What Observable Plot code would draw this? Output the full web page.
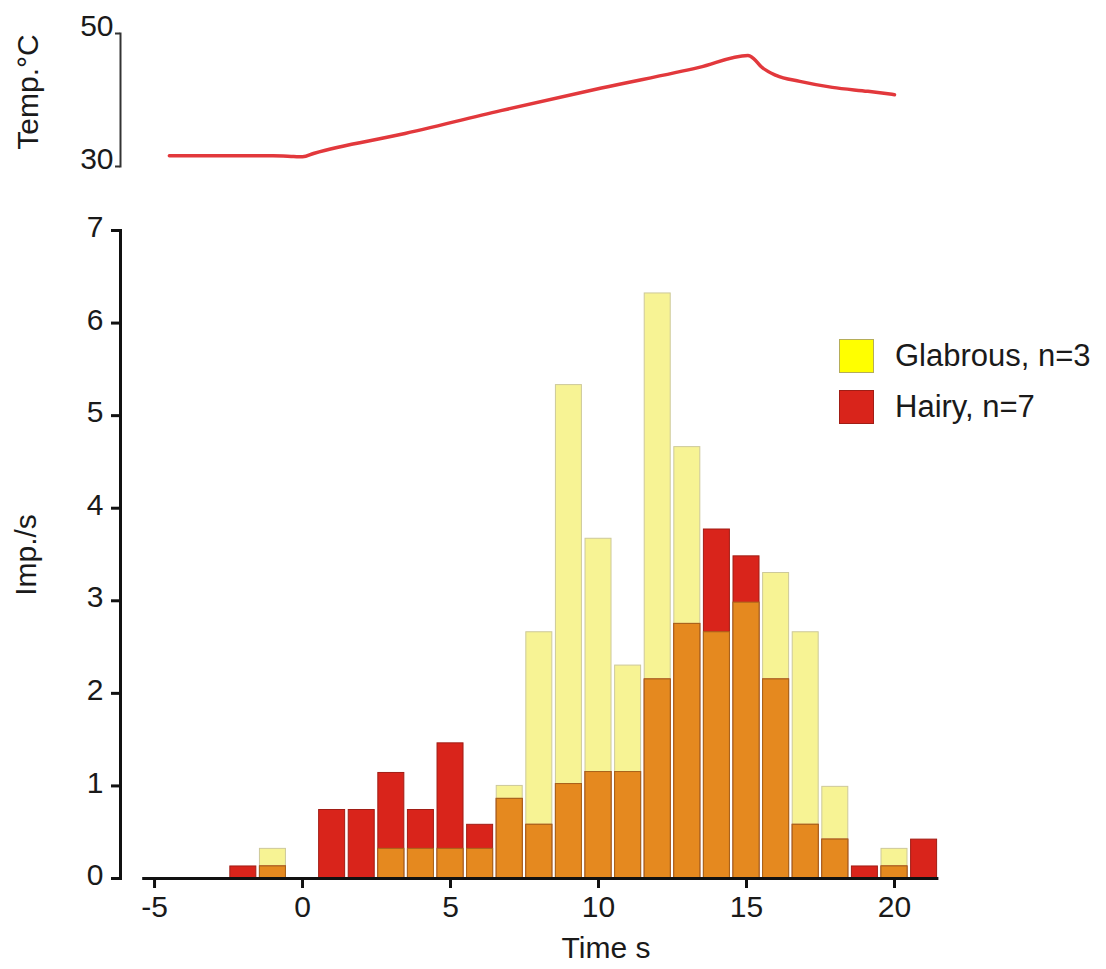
<!DOCTYPE html>
<html>
<head>
<meta charset="utf-8">
<script src="https://cdn.jsdelivr.net/npm/d3@7"></script>
<script src="https://cdn.jsdelivr.net/npm/@observablehq/plot@0.6"></script>
<style>
  body { margin: 0; background: #fff; font-family: "Liberation Sans", Arial, sans-serif; }
  #wrap { position: relative; width: 1106px; height: 969px; overflow: hidden; }
  #top { position: absolute; left: 0; top: 0; }
  #bottom { position: absolute; left: 0; top: 200px; }
  .lab { position: absolute; font-size: 30px; color: #1a1a1a; white-space: nowrap; line-height: 1; }
  .center { transform: translate(-50%, -50%); }
  .rot { transform: translate(-50%, -50%) rotate(-90deg); }
  .legend { position: absolute; left: 839px; top: 338px; }
  .item { display: flex; align-items: center; height: 35px; margin-bottom: 16px; }
  .sw { width: 35px; height: 34px; box-sizing: border-box; margin-right: 21px; }
  .item span { font-size: 31px; color: #1a1a1a; }
</style>
</head>
<body>
<div id="wrap">
  <div id="top"></div>
  <div id="bottom"></div>
  <div class="lab rot" style="left:28px; top:92px;">Temp.°C</div>
  <div class="lab rot" style="left:26px; top:555px;">Imp./s</div>
  <div class="lab center" style="left:606px; top:948px;">Time s</div>
  <div class="legend" id="legend"></div>
</div>
<script>
// ---- Data ----
const binTime = [-2, -1, 0, 1, 2, 3, 4, 5, 6, 7, 8, 9, 10, 11, 12, 13, 14, 15, 16, 17, 18, 19, 20, 21];
const glabrous = [0, 0.32, 0, 0, 0, 0.32, 0.32, 0.32, 0.32, 1.0, 2.66, 5.33, 3.67, 2.30, 6.32, 4.66, 2.66, 2.98, 3.30, 2.66, 0.99, 0, 0.32, 0];
const hairy    = [0.13, 0.13, 0, 0.74, 0.74, 1.14, 0.74, 1.46, 0.58, 0.86, 0.58, 1.02, 1.15, 1.15, 2.15, 2.75, 3.77, 3.48, 2.15, 0.58, 0.42, 0.13, 0.13, 0.42];
const binWidth = 1;

const tempTime  = [-4.5, -2.5, -1.0, -0.3, 0.0, 0.4, 3.3, 6.7, 10.1, 13.4, 15.05, 15.25, 15.5, 16.0, 16.8, 17.9, 19.1, 20.0];
const tempValue = [31.6, 31.6, 31.6, 31.5, 31.45, 32.0, 34.8, 38.4, 41.8, 44.9, 46.7, 46.2, 45.0, 43.7, 42.8, 41.9, 41.3, 40.8];

const xTicks = [-5, 0, 5, 10, 15, 20];
const yTicks = [0, 1, 2, 3, 4, 5, 6, 7];
const tempTicks = [30, 50];
const xDomain = [-6.15, 21.5];
const xAxisExtent = [-5.4, 21.5];
const seriesNames = ["Glabrous, n=3", "Hairy, n=7"];

// ---- Build tables ----
const bins = binTime.map((t, i) => ({ t, glabrous: glabrous[i], hairy: hairy[i], overlap: Math.min(glabrous[i], hairy[i]) }));
const temp = tempTime.map((t, i) => ({ t, v: tempValue[i] }));

const W = 1106, ML = 120, MR = 167.6;
const barOpts = {
  x1: d => d.t - binWidth / 2,
  x2: d => d.t + binWidth / 2,
  y1: 0,
  insetLeft: 1.8,
  insetRight: 1.8,
  strokeWidth: 1
};
const font = '"Liberation Sans", Arial, sans-serif';

// ---- Top chart: temperature ----
const topChart = Plot.plot({
  width: W, height: 200,
  marginLeft: ML, marginRight: MR, marginTop: 33, marginBottom: 34,
  style: { fontFamily: font, color: "#1a1a1a", background: "transparent" },
  x: { domain: xDomain, axis: null },
  y: { domain: [30, 50], axis: null },
  marks: [
    Plot.frame({ anchor: "left", stroke: "#333", strokeWidth: 2 }),
    Plot.axisY({ ticks: tempTicks, tickSize: 5, strokeWidth: 2, stroke: "#333", fill: "none", label: null }),
    Plot.axisY({ ticks: tempTicks, tickSize: 0, tickPadding: 7, fontSize: 30, dy: -7, label: null, tickFormat: d => String(d) }),
    Plot.line(temp, { x: "t", y: "v", stroke: "#e2383c", strokeWidth: 3.5, curve: "monotone-x" })
  ]
});
document.getElementById("top").appendChild(topChart);

// ---- Bottom chart: histogram ----
const bottomChart = Plot.plot({
  width: W, height: 769,
  marginLeft: ML, marginRight: MR, marginTop: 30, marginBottom: 91,
  style: { fontFamily: font, color: "#1a1a1a", background: "transparent" },
  x: { domain: xDomain, axis: null },
  y: { domain: [0, 7], axis: null },
  marks: [
    Plot.frame({ anchor: "left", stroke: "#111", strokeWidth: 3 }),
    Plot.axisY({ ticks: yTicks, tickSize: 9, strokeWidth: 3, stroke: "#111", fill: "none", label: null }),
    Plot.axisY({ ticks: yTicks, tickSize: 0, tickPadding: 17, fontSize: 30, dy: -3, label: null, tickFormat: d => String(d) }),
    Plot.rectY(bins.filter(d => d.glabrous > 0), { ...barOpts, y2: "glabrous", fill: "#f7f394", stroke: "#cdc99a" }),
    Plot.rectY(bins.filter(d => d.hairy > 0), { ...barOpts, y2: "hairy", fill: "#d9241b", stroke: "#a11d15" }),
    Plot.rectY(bins.filter(d => d.overlap > 0), { ...barOpts, y2: "overlap", fill: "#e5891f", stroke: "#a8651c" }),
    Plot.ruleY([0], { x1: xAxisExtent[0], x2: xAxisExtent[1], stroke: "#111", strokeWidth: 3 }),
    Plot.axisX({ ticks: xTicks, anchor: "bottom", tickSize: 10, strokeWidth: 3, stroke: "#111", tickPadding: 7, fontSize: 30, label: null, tickFormat: d => String(d) })
  ]
});
document.getElementById("bottom").appendChild(bottomChart);

// ---- Legend ----
const swatchFill = ["#ffff00", "#d9241b"];
const swatchStroke = ["#b5ad5a", "#a11d15"];
const legend = document.getElementById("legend");
seriesNames.forEach((name, i) => {
  const item = document.createElement("div");
  item.className = "item";
  const sw = document.createElement("div");
  sw.className = "sw";
  sw.style.background = swatchFill[i];
  sw.style.border = "1px solid " + swatchStroke[i];
  const txt = document.createElement("span");
  txt.textContent = name;
  item.appendChild(sw);
  item.appendChild(txt);
  legend.appendChild(item);
});
</script>
</body>
</html>
